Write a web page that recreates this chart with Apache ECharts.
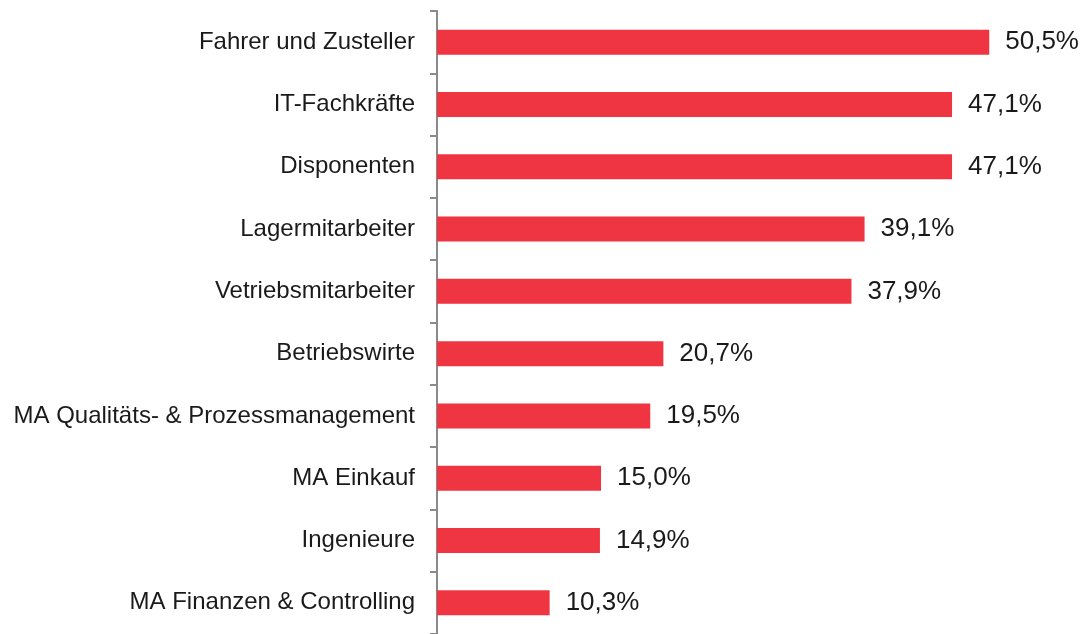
<!DOCTYPE html>
<html>
<head>
<meta charset="utf-8">
<script src="https://cdn.jsdelivr.net/npm/echarts@6/dist/echarts.min.js"></script>
<style>
html,body{margin:0;padding:0;background:#fff;}
#c{width:1084px;height:634px;}
</style>
</head>
<body>
<div id="c"></div>
<script>
const categories = [
  "Fahrer und Zusteller",
  "IT-Fachkräfte",
  "Disponenten",
  "Lagermitarbeiter",
  "Vetriebsmitarbeiter",
  "Betriebswirte",
  "MA Qualitäts- & Prozessmanagement",
  "MA Einkauf",
  "Ingenieure",
  "MA Finanzen & Controlling"
];
const values = [50.5, 47.1, 47.1, 39.1, 37.9, 20.7, 19.5, 15.0, 14.9, 10.3];

const chart = echarts.init(document.getElementById('c'), null, {renderer: 'canvas'});
chart.setOption({
  animation: false,
  backgroundColor: '#ffffff',
  grid: {left: 437, top: 11, width: 643, height: 625, containLabel: false},
  xAxis: {
    type: 'value', min: 0, max: 58.8,
    show: false
  },
  yAxis: {
    type: 'category',
    data: categories,
    inverse: true,
    axisLine: {show: true, lineStyle: {color: '#8a8a8a', width: 2}},
    axisTick: {show: true, length: 7, lineStyle: {color: '#8a8a8a', width: 2}},
    axisLabel: {
      margin: 22,
      fontFamily: 'Liberation Sans, Arial, sans-serif',
      fontSize: 24,
      color: '#1a1a1a',
      padding: [8, 0, 0, 0]
    },
    splitLine: {show: false}
  },
  series: [{
    type: 'bar',
    data: values,
    barWidth: 25,
    itemStyle: {color: '#EE3541'},
    label: {
      show: true,
      position: 'right',
      distance: 16,
      fontFamily: 'Liberation Sans, Arial, sans-serif',
      fontSize: 26,
      color: '#1a1a1a',
      padding: [8, 0, 0, 0],
      formatter: p => p.value.toFixed(1).replace('.', ',') + '%'
    }
  }]
});
</script>
</body>
</html>
